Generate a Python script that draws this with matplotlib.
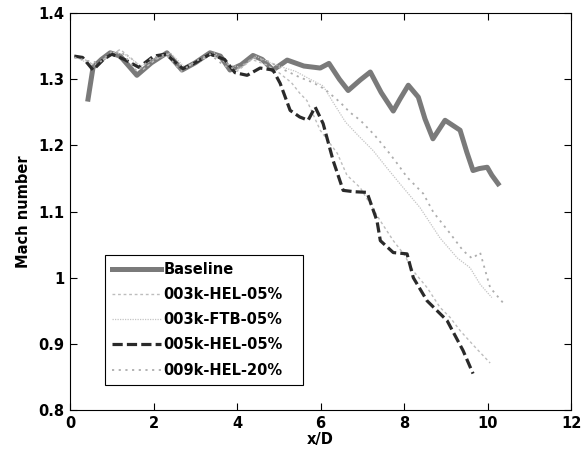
import matplotlib.pyplot as plt

# Mach number along the centreline
base_x = [0.43, 0.55, 0.75, 0.96, 1.2, 1.6, 1.95, 2.32, 2.68, 3.0, 3.35, 3.6, 3.83, 4.1, 4.38, 4.6,
          4.86, 5.2, 5.6, 5.99, 6.2, 6.45, 6.66, 6.95, 7.19, 7.45, 7.74, 7.9, 8.1, 8.34, 8.5, 8.69,
          8.98, 9.34, 9.5, 9.65, 9.8, 9.99, 10.1, 10.25]
base_y = [1.27, 1.318, 1.33, 1.34, 1.335, 1.306, 1.325, 1.34, 1.314, 1.325, 1.34, 1.335, 1.314, 1.322,
          1.336, 1.33, 1.314, 1.329, 1.32, 1.317, 1.324, 1.30, 1.283, 1.299, 1.311, 1.28, 1.252, 1.27,
          1.291, 1.273, 1.24, 1.21, 1.238, 1.223, 1.19, 1.162, 1.165, 1.167, 1.155, 1.142]

hel3_x = [0.1, 0.35, 0.6, 0.9, 1.2, 1.5, 1.75, 2.05, 2.35, 2.7, 3.05, 3.4, 3.75, 4.0, 4.35, 4.7, 5.0,
          5.3, 5.5, 5.67, 5.99, 6.2, 6.4, 6.63, 6.95, 7.2, 7.43, 7.74, 8.0, 8.22, 8.55, 8.86, 9.1,
          9.34, 9.7, 10.06]
hel3_y = [1.333, 1.33, 1.32, 1.335, 1.345, 1.33, 1.315, 1.33, 1.338, 1.318, 1.325, 1.338, 1.325, 1.312,
          1.33, 1.322, 1.31, 1.295, 1.279, 1.268, 1.223, 1.205, 1.188, 1.155, 1.136, 1.11, 1.086,
          1.056, 1.035, 1.01, 0.985, 0.955, 0.94, 0.92, 0.895, 0.871]

ftb_x = [0.1, 0.4, 0.7, 1.0, 1.3, 1.7, 2.0, 2.4, 2.75, 3.1, 3.45, 3.8, 4.1, 4.45, 4.8, 5.1, 5.4, 5.75,
         6.06, 6.3, 6.6, 6.9, 7.26, 7.6, 7.9, 8.38, 8.86, 9.27, 9.58, 9.82, 10.1]
ftb_y = [1.335, 1.325, 1.322, 1.34, 1.338, 1.32, 1.33, 1.34, 1.318, 1.328, 1.34, 1.322, 1.318, 1.335,
         1.325, 1.318, 1.312, 1.30, 1.29, 1.265, 1.235, 1.215, 1.192, 1.165, 1.142, 1.106, 1.06, 1.03,
         1.015, 0.99, 0.97]

hel5_x = [0.1, 0.3, 0.55, 0.8, 1.0, 1.3, 1.65, 2.0, 2.3, 2.7, 3.0, 3.35, 3.7, 3.95, 4.24, 4.55, 4.86,
          5.03, 5.27, 5.5, 5.7, 5.87, 6.06, 6.3, 6.54, 6.8, 7.11, 7.35, 7.43, 7.74, 8.07, 8.22, 8.55,
          9.03, 9.41, 9.65]
hel5_y = [1.335, 1.333, 1.314, 1.33, 1.338, 1.33, 1.318, 1.335, 1.338, 1.316, 1.325, 1.338, 1.33, 1.31,
          1.306, 1.317, 1.314, 1.294, 1.253, 1.243, 1.238, 1.258, 1.233, 1.177, 1.132, 1.13, 1.129,
          1.086, 1.056, 1.038, 1.036, 1.0, 0.965, 0.935, 0.89, 0.855]

hel9_x = [0.1, 0.4, 0.7, 1.0, 1.25, 1.6, 1.95, 2.3, 2.65, 3.0, 3.35, 3.7, 4.0, 4.4, 4.75, 5.1, 5.5,
          5.82, 6.1, 6.47, 6.7, 6.95, 7.3, 7.6, 7.83, 8.07, 8.46, 8.7, 9.1, 9.41, 9.63, 9.82, 10.06,
          10.37]
hel9_y = [1.333, 1.328, 1.325, 1.342, 1.34, 1.312, 1.332, 1.338, 1.312, 1.327, 1.338, 1.32, 1.315, 1.333,
          1.327, 1.315, 1.303, 1.295, 1.285, 1.265, 1.25, 1.238, 1.215, 1.192, 1.173, 1.152, 1.127,
          1.099, 1.067, 1.041, 1.029, 1.038, 0.985, 0.962]

labels = ['Baseline', '003k-HEL-05%', '003k-FTB-05%', '005k-HEL-05%', '009k-HEL-20%']

plt.rcParams['font.family'] = ['DejaVu Sans']
plt.rcParams['font.weight'] = 'bold'

fig = plt.figure(figsize=(5.84, 4.53), dpi=100)
ax = fig.add_axes([0.12, 0.095, 0.858, 0.876])

ax.plot(base_x, base_y, color='#7a7a7a', lw=3.6, label=labels[0])
ax.plot(hel3_x, hel3_y, color='#bdbdbd', lw=1.0, ls=(0, (2, 2)), label=labels[1])
ax.plot(ftb_x, ftb_y, color='#c4c4c4', lw=0.9, ls=(0, (1, 1)), label=labels[2])
ax.plot(hel5_x, hel5_y, color='#2a2a2a', lw=2.3, ls=(0, (3.2, 1.3)), label=labels[3])
ax.plot(hel9_x, hel9_y, color='#adadad', lw=1.3, ls=(0, (1.2, 2.5)), label=labels[4])

ax.set_xlim(0, 12)
ax.set_ylim(0.8, 1.4)
ax.set_xticks([0, 2, 4, 6, 8, 10, 12])
ax.set_yticks([0.8, 0.9, 1.0, 1.1, 1.2, 1.3, 1.4])
ax.set_yticklabels(['0.8', '0.9', '1', '1.1', '1.2', '1.3', '1.4'])
ax.tick_params(direction='in', top=True, right=True, length=5, width=0.8, labelsize=10.5, pad=4)
for s in ax.spines.values():
    s.set_linewidth(0.8)

ax.set_xlabel('x/D', fontsize=10.5, fontweight='bold', labelpad=1)
ax.set_ylabel('Mach number', fontsize=10.5, fontweight='bold', labelpad=5)

leg = ax.legend(loc='lower left', bbox_to_anchor=(0.07, 0.063, 0.395, 0.328), mode='expand',
                fontsize=10.5, fancybox=False, framealpha=1, edgecolor='black',
                handlelength=3.3, handletextpad=0.2, borderaxespad=0, labelspacing=0.7,
                borderpad=0.5)
leg.get_frame().set_linewidth(0.8)

fig.savefig('out.png', dpi=100)
